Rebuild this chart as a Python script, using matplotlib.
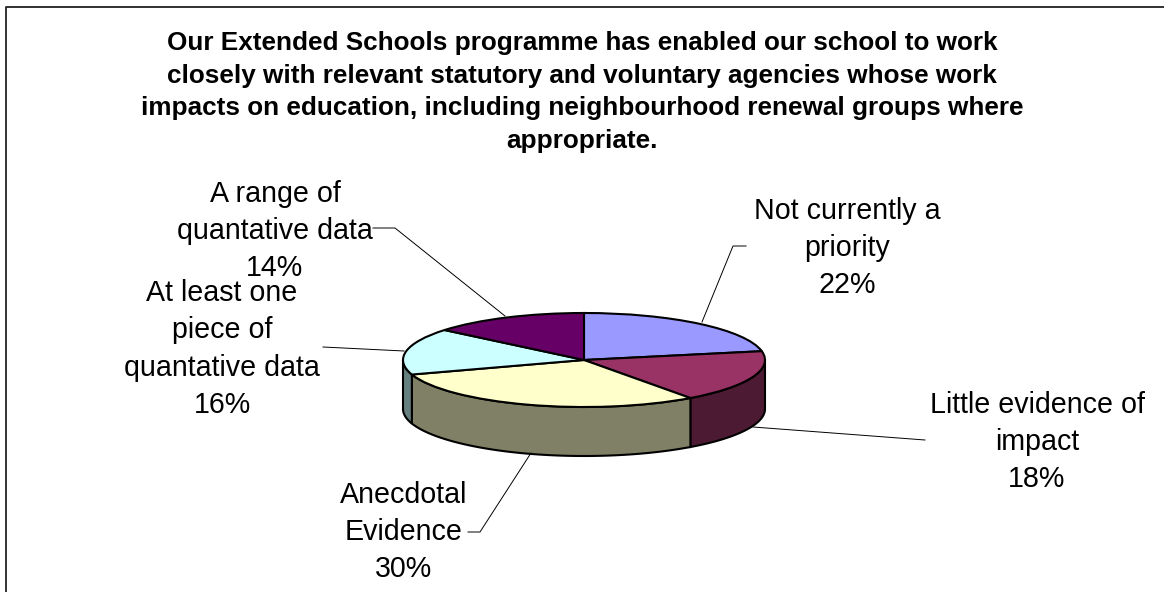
import numpy as np
import matplotlib
matplotlib.use("Agg")
import matplotlib.pyplot as plt

plt.rcParams["font.family"] = ["Liberation Sans", "DejaVu Sans"]

W = 1164
H = 592

title = ("Our Extended Schools programme has enabled our school to work\n"
         "closely with relevant statutory and voluntary agencies whose work\n"
         "impacts on education, including neighbourhood renewal groups where\n"
         "appropriate.")
names = ["Not currently a\npriority", "Little evidence of\nimpact", "Anecdotal\nEvidence",
         "At least one\npiece of\nquantative data", "A range of\nquantative data"]
values = [22, 18, 30, 16, 14]
top_colors = ["#9999FF", "#993366", "#FFFFCC", "#CCFFFF", "#660066"]
side_colors = ["#4D1A33", "#4D1A33", "#808066", "#668080", "#330033"]

# pie ellipse in pixels
cx, cy, a, b = 584, 360, 181, 47
depth = 49 / b  # wall height in pie units

fig = plt.figure(figsize=(W / 100, H / 100), dpi=100, facecolor="white")

# pixel overlay for frame, title, labels
ov = fig.add_axes([0, 0, 1, 1], zorder=3)
ov.set_xlim(0, W)
ov.set_ylim(H, 0)
ov.axis("off")
ov.patch.set_alpha(0)

# pie axes stretched onto the ellipse
ax = fig.add_axes([(cx - a) / W, 1 - (cy + b) / H, 2 * a / W, 2 * b / H], zorder=2)
ax.pie(values, colors=top_colors, startangle=90, counterclock=False, radius=1,
       wedgeprops=dict(edgecolor="black", linewidth=1.5, clip_on=False))
ax.set_aspect("auto")
ax.set_xlim(-1, 1)
ax.set_ylim(-1, 1)
ax.axis("off")

# side walls, only the front half shows
edges = np.cumsum([0] + values) / sum(values) * 360
for i in range(len(values)):
    t0 = max(edges[i], 90)
    t1 = min(edges[i + 1], 270)
    if t1 <= t0:
        continue
    t = np.radians(np.linspace(t0, t1, 80))
    x = np.sin(t)
    y = np.cos(t)
    ax.fill(np.r_[x, x[::-1]], np.r_[y, y[::-1] - depth], facecolor=side_colors[i],
            edgecolor="black", linewidth=1.5, clip_on=False, zorder=0)

# frame, open on the right and bottom
ov.plot([6, 6, W], [H, 6.5, 6.5], color="#222222", lw=1.3, clip_on=False)

ov.text(582, 92, title, ha="center", va="center", fontsize=18.8, fontweight="bold",
        linespacing=1.45, color="black")

# leader lines
ov.plot([702, 733, 746], [322, 246, 246], color="black", lw=0.7)
ov.plot([753, 925], [427, 440], color="black", lw=0.7)
ov.plot([531, 480, 468], [453, 532, 532], color="black", lw=0.7)
ov.plot([404, 323], [351, 347], color="black", lw=0.7)
ov.plot([505, 395, 373], [316, 228, 228], color="black", lw=0.7)

label_pos = [(847, 248), (1037, 442), (404, 532), (222, 349), (275, 231)]
for name, v, (lx, ly) in zip(names, values, label_pos):
    ov.text(lx, ly, "%s\n%d%%" % (name, v), ha="center", va="center", fontsize=20.6,
            linespacing=1.41, color="black")

fig.savefig("out.png", dpi=100)
